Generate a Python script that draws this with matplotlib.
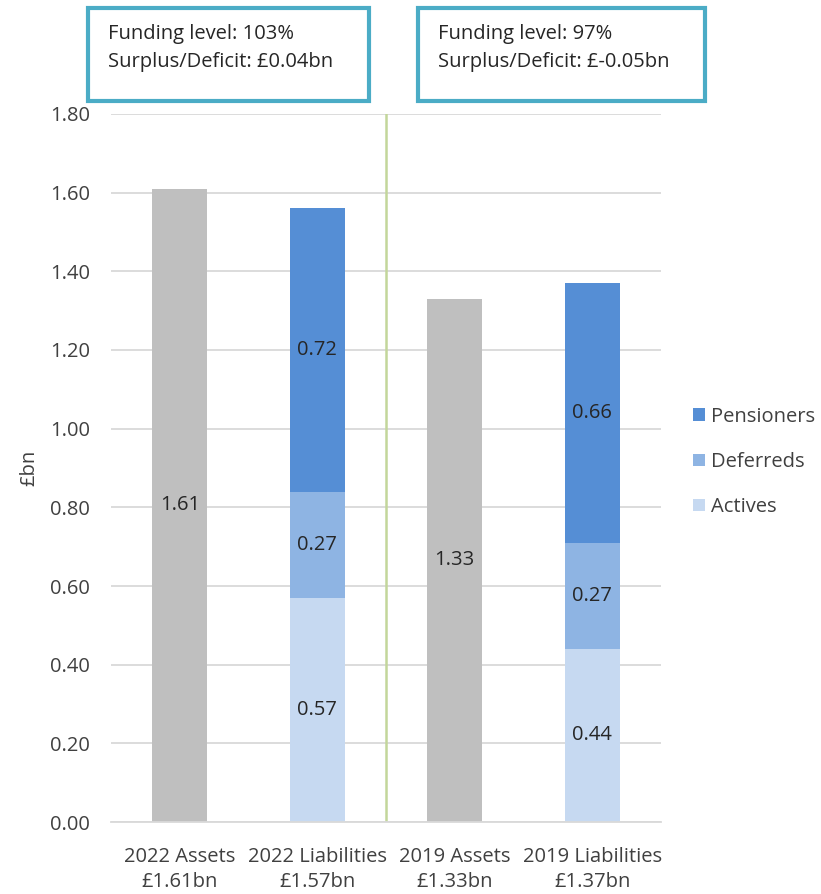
import numpy as np
import matplotlib.pyplot as plt
from matplotlib.patches import FancyBboxPatch

plt.rcParams['font.family'] = ['Open Sans', 'DejaVu Sans']

categories = ['2022 Assets\n£1.61bn', '2022 Liabilities\n£1.57bn',
              '2019 Assets\n£1.33bn', '2019 Liabilities\n£1.37bn']
assets = [1.61, 0, 1.33, 0]
actives = [0, 0.57, 0, 0.44]
deferreds = [0, 0.27, 0, 0.27]
pensioners = [0, 0.72, 0, 0.66]
box_texts = ['Funding level: 103%\nSurplus/Deficit: £0.04bn',
             'Funding level: 97%\nSurplus/Deficit: £-0.05bn']

c_assets = '#BFBFBF'
c_act = '#C6D9F1'
c_def = '#8EB4E3'
c_pen = '#558ED5'
fs = 14.5

fig = plt.figure(figsize=(8.21, 8.94), dpi=100)
ax = fig.add_axes([111/821, 72/894, 550/821, 708/894])

x = np.arange(len(categories))
w = 0.4
act = np.array(actives)
dfr = np.array(deferreds)
pen = np.array(pensioners)

ax.bar(x, assets, w, color=c_assets, zorder=2)
b_act = ax.bar(x, act, w, color=c_act, label='Actives', zorder=2)
b_def = ax.bar(x, dfr, w, bottom=act, color=c_def, label='Deferreds', zorder=2)
b_pen = ax.bar(x, pen, w, bottom=act + dfr, color=c_pen, label='Pensioners', zorder=2)

# value labels in the middle of each segment
for i in range(len(x)):
    if assets[i] > 0:
        ax.text(x[i], assets[i] / 2, f'{assets[i]:.2f}', ha='center', va='center',
                fontsize=fs, color='#262626', zorder=3)
    bottom = 0
    for vals in (act, dfr, pen):
        v = vals[i]
        if v > 0:
            ax.text(x[i], bottom + v / 2, f'{v:.2f}', ha='center', va='center',
                    fontsize=fs, color='#262626', zorder=3)
        bottom += v

ax.axvline(1.5, color='#C3D69B', lw=1.8, zorder=1)

ax.set_xlim(-0.5, 3.5)
ax.set_ylim(0, 1.8)
ax.set_yticks(np.arange(0, 1.81, 0.2))
ax.set_yticklabels([f'{v:.2f}' for v in np.arange(0, 1.81, 0.2)])
ax.set_xticks(x)
ax.set_xticklabels(categories, linespacing=1.35)
ax.tick_params(axis='both', length=0, labelsize=fs, colors='#404040')
ax.tick_params(axis='x', pad=18)
ax.tick_params(axis='y', pad=15)
ax.yaxis.grid(True, color='#D9D9D9', lw=1.3, zorder=0)
ax.set_axisbelow(True)
for s in ['top', 'right', 'left']:
    ax.spines[s].set_visible(False)
ax.spines['bottom'].set_color('#D9D9D9')
ax.spines['bottom'].set_linewidth(1.3)
ax.set_ylabel('£bn', fontsize=fs, color='#404040', labelpad=8)

handles = [b_pen, b_def, b_act]
leg = fig.legend(handles, ['Pensioners', 'Deferreds', 'Actives'],
                 loc='center left', bbox_to_anchor=(675/821, 1 - 462/894),
                 frameon=False, fontsize=fs, handlelength=0.6, handleheight=0.6,
                 handletextpad=0.3, labelspacing=1.25, labelcolor='#404040')

# funding boxes
for (x0, x1), txt in zip([(88, 369), (418, 705)], box_texts):
    rect = FancyBboxPatch((x0/821, 1 - 101/894), (x1 - x0)/821, 93/894,
                          boxstyle='square,pad=0', transform=fig.transFigure,
                          fill=False, edgecolor='#4BACC6', lw=3)
    fig.patches.append(rect)
    fig.text((x0 + 20)/821, 1 - 48/894, txt, fontsize=fs, color='#262626',
             va='center', ha='left', linespacing=1.5)

fig.savefig('out.png', dpi=100)
